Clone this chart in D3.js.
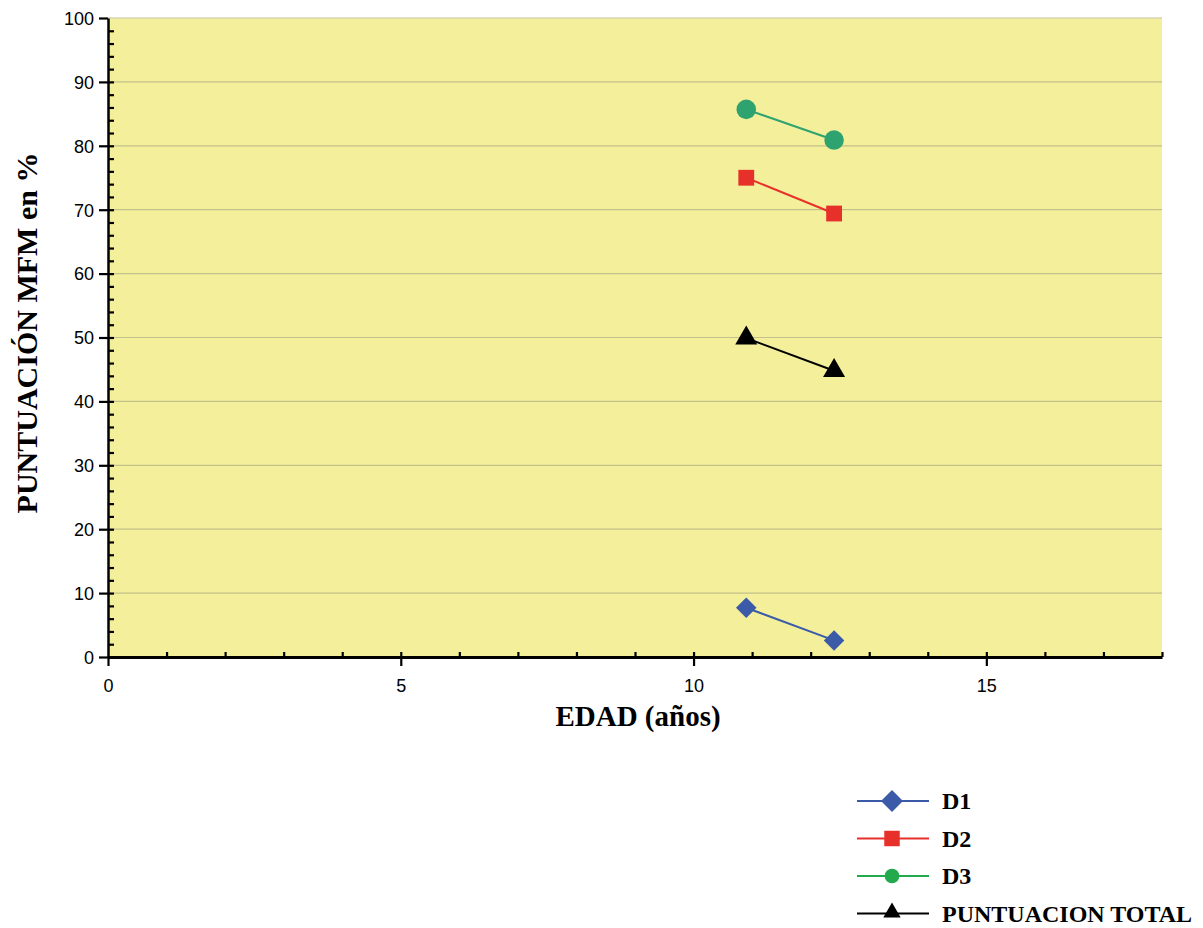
<!DOCTYPE html>
<html>
<head>
<meta charset="utf-8">
<script src="https://cdn.jsdelivr.net/npm/d3@7"></script>
<style>
  body { margin: 0; background: #fff; }
  svg { display: block; }
</style>
</head>
<body>
<div id="chart"></div>
<script>
// data
var ages = [10.9, 12.4];
var d1 = [7.7, 2.6];
var d2 = [75, 69.4];
var d3v = [85.7, 80.9];
var total = [49.9, 44.8];
var seriesNames = ["D1", "D2", "D3", "PUNTUACION TOTAL"];
var xTicks = [0, 5, 10, 15];
var yTicks = [0, 10, 20, 30, 40, 50, 60, 70, 80, 90, 100];

var series = [
  {name: seriesNames[0], values: d1, color: "#3b5ba9", legendColor: "#3b5ba9", shape: d3.symbolDiamond, size: 210, lsize: 240},
  {name: seriesNames[1], values: d2, color: "#e8302a", legendColor: "#e8302a", shape: d3.symbolSquare, size: 250, lsize: 240},
  {name: seriesNames[2], values: d3v, color: "#2fa36f", legendColor: "#22aa4d", shape: d3.symbolCircle, size: 300, lsize: 170},
  {name: seriesNames[3], values: total, color: "#000", legendColor: "#000", shape: d3.symbolTriangle, size: 210, lsize: 130}
];

var margin = {top: 18, right: 41, bottom: 271, left: 108},
    W = 1203, H = 928,
    width = W - margin.left - margin.right,
    height = H - margin.top - margin.bottom;

var svg = d3.select("#chart").append("svg")
    .attr("width", W).attr("height", H);

var g = svg.append("g")
    .attr("transform", "translate(" + margin.left + "," + margin.top + ")");

var x = d3.scaleLinear().domain([0, 18]).range([0, width]);
var y = d3.scaleLinear().domain([0, 100]).range([height, 0]);

// plot background
g.append("rect")
  .attr("width", width).attr("height", height)
  .attr("fill", "#f3ef9b");
g.append("line")
  .attr("x1", 0).attr("x2", width).attr("y1", 0).attr("y2", 0)
  .attr("stroke", "#d9d6b0").attr("stroke-width", 1.5);

// gridlines
g.selectAll(".grid").data(yTicks.slice(1, -1)).enter().append("line")
  .attr("x1", 0).attr("x2", width)
  .attr("y1", function(d) { return y(d); })
  .attr("y2", function(d) { return y(d); })
  .attr("stroke", "#c4c08a").attr("stroke-width", 1.2);

// minor ticks pointing inwards
g.append("g")
  .call(d3.axisTop(x).tickValues(d3.range(1, 19)).tickSize(5).tickFormat(""))
  .attr("transform", "translate(0," + height + ")")
  .call(function(a) { a.select(".domain").remove(); a.selectAll("line").attr("stroke-width", 2.2); });
g.append("g")
  .call(d3.axisRight(y).tickValues(d3.range(2, 100, 2)).tickSize(6).tickFormat(""))
  .call(function(a) { a.select(".domain").remove(); a.selectAll("line").attr("stroke-width", 2.2); });

// main axes
var xAxis = g.append("g")
  .attr("transform", "translate(0," + height + ")")
  .call(d3.axisBottom(x).tickValues(xTicks).tickSize(9).tickPadding(13).tickSizeOuter(0));
var yAxis = g.append("g")
  .call(d3.axisLeft(y).tickValues(yTicks).tickSize(9).tickPadding(5).tickSizeOuter(0));

[xAxis, yAxis].forEach(function(a) {
  a.select(".domain").attr("stroke-width", 2.5);
  a.selectAll(".tick line").attr("stroke-width", 2.2);
  a.selectAll("text")
    .attr("font-family", "Liberation Sans, Arial, sans-serif")
    .attr("font-size", 18).attr("fill", "#000");
});
xAxis.select(".domain").attr("stroke-width", 3);
yAxis.selectAll(".tick text").attr("dy", "0.35em");

// lines and markers
var line = d3.line()
  .x(function(d, i) { return x(ages[i]); })
  .y(function(d) { return y(d); });

series.forEach(function(s) {
  g.append("path")
    .datum(s.values)
    .attr("fill", "none")
    .attr("stroke", s.color)
    .attr("stroke-width", 2)
    .attr("d", line);
  g.selectAll(null).data(s.values).enter().append("path")
    .attr("transform", function(d, i) {
      var rot = s.shape === d3.symbolDiamond ? " rotate(45)" : "";
      return "translate(" + x(ages[i]) + "," + y(d) + ")" + rot;
    })
    .attr("d", d3.symbol().type(s.shape === d3.symbolDiamond ? d3.symbolSquare : s.shape).size(s.size))
    .attr("fill", s.color);
});

// axis titles
svg.append("text")
  .attr("x", 638).attr("y", 726)
  .attr("text-anchor", "middle")
  .attr("font-family", "Liberation Serif, Times New Roman, serif")
  .attr("font-weight", "bold").attr("font-size", 29)
  .text("EDAD (años)");

svg.append("text")
  .attr("transform", "translate(37," + 333 + ") rotate(-90)")
  .attr("text-anchor", "middle")
  .attr("font-family", "Liberation Serif, Times New Roman, serif")
  .attr("font-weight", "bold").attr("font-size", 30)
  .text("PUNTUACIÓN MFM en %");

// legend
var legend = svg.append("g").attr("transform", "translate(857,801)");
series.forEach(function(s, i) {
  var row = legend.append("g").attr("transform", "translate(0," + (i * 37.5) + ")");
  row.append("line")
    .attr("x1", 0).attr("x2", 72)
    .attr("stroke", s.legendColor).attr("stroke-width", 2.2);
  var isDia = s.shape === d3.symbolDiamond;
  row.append("path")
    .attr("transform", "translate(35," + (isDia ? 0 : (s.shape === d3.symbolTriangle ? -1 : 0)) + ")" + (isDia ? " rotate(45)" : ""))
    .attr("d", d3.symbol().type(isDia ? d3.symbolSquare : s.shape).size(s.lsize))
    .attr("fill", s.legendColor);
  row.append("text")
    .attr("x", 85).attr("dy", "0.35em")
    .attr("font-family", "Liberation Serif, Times New Roman, serif")
    .attr("font-weight", "bold").attr("font-size", 24)
    .text(s.name);
});
</script>
</body>
</html>
